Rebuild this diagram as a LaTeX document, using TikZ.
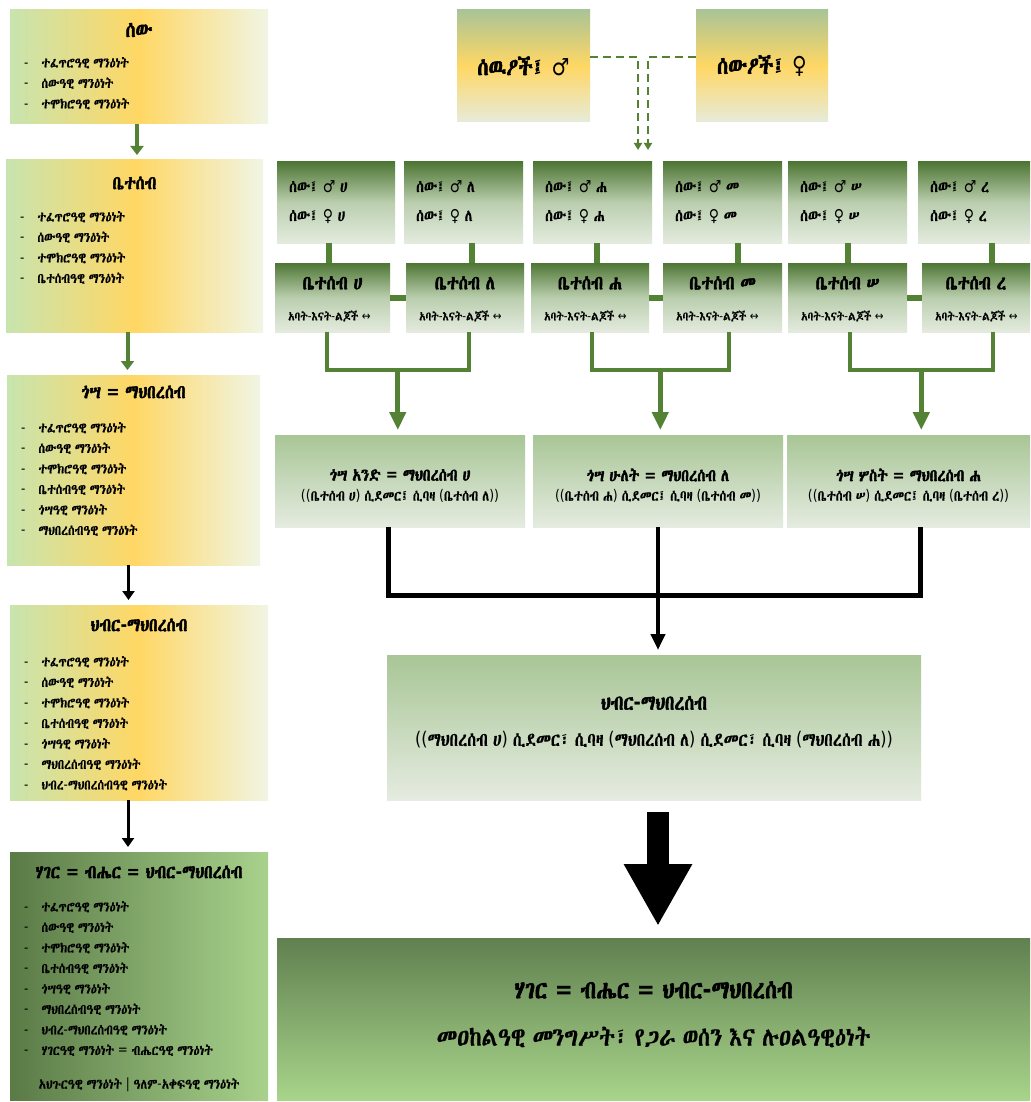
\documentclass[tikz,border=0pt]{standalone}
\usepackage{fontspec}
\setmainfont{DejaVu Sans}[FakeStretch=0.85]
\newfontfamily\latf{DejaVu Sans}[FakeStretch=0.85]
\IfFontExistsTF{Abyssinica SIL}{%
  \newfontfamily\geez{Abyssinica SIL}[FakeStretch=0.85,UprightFeatures={FakeBold=0.7},
    BoldFont={Abyssinica SIL},BoldFeatures={FakeBold=2.5}]}{%
  \IfFontExistsTF{FreeSerif}{\newfontfamily\geez{FreeSerif}[FakeStretch=0.85]}{\newfontfamily\geez{DejaVu Sans}}}
\usetikzlibrary{arrows.meta,calc}

% Ethiopic letters switch to the Ge'ez font, everything else stays in DejaVu
\XeTeXinterchartokenstate=1
\newXeTeXintercharclass\ethcls
\newcount\ethc
\ethc="1200
\loop
  \XeTeXcharclass\ethc=\ethcls
  \advance\ethc by 1
\ifnum\ethc<"13A0 \repeat
\XeTeXinterchartoks 0 \ethcls = {\geez}
\XeTeXinterchartoks 4095 \ethcls = {\geez}
\XeTeXinterchartoks \ethcls 0 = {\latf}
\XeTeXinterchartoks \ethcls 4095 = {\latf}

\definecolor{sideL}{RGB}{200,228,175}
\definecolor{sideM}{RGB}{255,215,100}
\definecolor{sideR}{RGB}{240,245,228}
\definecolor{natL}{RGB}{90,122,70}
\definecolor{natR}{RGB}{168,210,140}
\definecolor{pplT}{RGB}{169,196,150}
\definecolor{pplB}{RGB}{230,235,218}
\definecolor{famT}{RGB}{78,118,52}
\definecolor{famM}{RGB}{186,206,174}
\definecolor{famB}{RGB}{228,235,222}
\definecolor{clanT}{RGB}{168,198,150}
\definecolor{clanB}{RGB}{229,235,224}
\definecolor{natT}{RGB}{96,128,80}
\definecolor{natB}{RGB}{168,212,138}
\definecolor{connG}{RGB}{84,130,53}

\newcommand{\itm}[1]{-\hspace{13pt}#1}

\begin{document}
\begin{tikzpicture}[x=1pt,y=-1pt,
  box/.style={anchor=north west,inner sep=0pt,outer sep=0pt},
  sidebox/.style={box,left color=sideL,right color=sideR,middle color=sideM},
  nationside/.style={box,left color=natL,right color=natR},
  peoplebox/.style={box,top color=pplT,bottom color=pplB,middle color=sideM,
    font=\bfseries\fontsize{23.5}{26}\selectfont},
  pairbox/.style={box,top color=famT,bottom color=famB,middle color=famM},
  clanbox/.style={box,top color=clanT,bottom color=clanB},
  nationbox/.style={box,top color=natT,bottom color=natB},
  sidehead/.style={font=\bfseries\fontsize{18.8}{20}\selectfont},
  sidelist/.style={anchor=north west,align=left,inner sep=0pt,font=\fontsize{14}{20.5}\selectfont},
  pairtext/.style={anchor=north west,align=left,inner sep=0pt,font=\fontsize{16.5}{29}\selectfont},
  famhead/.style={font=\bfseries\fontsize{19.4}{21}\selectfont},
  famsub/.style={anchor=west,inner sep=0pt,font=\fontsize{12.3}{14}\selectfont},
  clanhead/.style={font=\bfseries\fontsize{17}{19}\selectfont},
  clansub/.style={font=\fontsize{14.7}{16}\selectfont},
  hybhead/.style={font=\bfseries\fontsize{20.6}{23}\selectfont},
  hybsub/.style={font=\fontsize{18.8}{21}\selectfont},
  nathead/.style={font=\bfseries\fontsize{25.3}{28}\selectfont},
  natsub/.style={font=\fontsize{25.9}{28}\selectfont},
  garrow/.style={color=connG,line width=4pt,-{Triangle[length=9pt,width=13pt]},shorten >=5pt},
  karrow/.style={black,line width=3pt,-{Triangle[length=9pt,width=12pt]},shorten >=5pt},
  dconn/.style={color=connG,line width=2.5pt,dash pattern=on 8pt off 5pt,-{Triangle[length=7pt,width=8pt]}},
  gbar/.style={color=connG,line width=6pt},
  gline/.style={color=connG,line width=4pt},
  garrowbig/.style={color=connG,line width=5pt,-{Triangle[length=18pt,width=16pt]},shorten >=5pt},
  kline/.style={black,line width=5pt},
  karrowbig/.style={black,line width=4pt,-{Triangle[length=16pt,width=14pt]},shorten >=5pt},
  bigarrow/.style={black,line width=22pt,-{Triangle[length=62pt,width=64pt]}}]
  \fill[white] (0,0) rectangle (1030,1102);
  \useasboundingbox (0,0) rectangle (1030,1102);

  % left column
  \node[sidebox,minimum width=258,minimum height=114] (sew) at (10,10) {};
  \node[sidehead,font=\bfseries\fontsize{21}{23}\selectfont] (sewH) at ([yshift=-20]sew.north) {ሰው};
  \node[sidelist] (sewL) at ([xshift=14,yshift=-47]sew.north west)
    {\itm{ተፈጥሮዓዊ ማንዕነት}\\ \itm{ሰውዓዊ ማንዕነት}\\ \itm{ተሞክሮዓዊ ማንዕነት}};

  \node[sidebox,minimum width=257,minimum height=172] (bet) at (6,160) {};
  \node[sidehead] (betH) at ([yshift=-23]bet.north) {ቤተሰብ};
  \node[sidelist] (betL) at ([xshift=14,yshift=-51]bet.north west)
    {\itm{ተፈጥሮዓዊ ማንዕነት}\\ \itm{ሰውዓዊ ማንዕነት}\\ \itm{ተሞክሮዓዊ ማንዕነት}\\
     \itm{ቤተሰብዓዊ ማንዕነት}};

  \node[sidebox,minimum width=253,minimum height=190] (gos) at (7,375) {};
  \node[sidehead] (gosH) at ([yshift=-17]gos.north) {ጎሣ = ማህበረሰብ};
  \node[sidelist] (gosL) at ([xshift=14,yshift=-47]gos.north west)
    {\itm{ተፈጥሮዓዊ ማንዕነት}\\ \itm{ሰውዓዊ ማንዕነት}\\ \itm{ተሞክሮዓዊ ማንዕነት}\\
     \itm{ቤተሰብዓዊ ማንዕነት}\\ \itm{ጎሣዓዊ ማንዕነት}\\ \itm{ማህበረሰብዓዊ ማንዕነት}};

  \node[sidebox,minimum width=258,minimum height=195] (hib) at (10,605) {};
  \node[sidehead] (hibH) at ([yshift=-20]hib.north) {ህብር-ማህበረሰብ};
  \node[sidelist] (hibL) at ([xshift=14,yshift=-51]hib.north west)
    {\itm{ተፈጥሮዓዊ ማንዕነት}\\ \itm{ሰውዓዊ ማንዕነት}\\ \itm{ተሞክሮዓዊ ማንዕነት}\\
     \itm{ቤተሰብዓዊ ማንዕነት}\\ \itm{ጎሣዓዊ ማንዕነት}\\ \itm{ማህበረሰብዓዊ ማንዕነት}\\
     \itm{ህብረ-ማህበረሰብዓዊ ማንዕነት}};

  \node[nationside,minimum width=258,minimum height=248] (hag) at (10,852) {};
  \node[sidehead] (hagH) at ([yshift=-20]hag.north) {ሃገር = ብሔር = ህብር-ማህበረሰብ};
  \node[sidelist] (hagL) at ([xshift=14,yshift=-49]hag.north west)
    {\itm{ተፈጥሮዓዊ ማንዕነት}\\ \itm{ሰውዓዊ ማንዕነት}\\ \itm{ተሞክሮዓዊ ማንዕነት}\\
     \itm{ቤተሰብዓዊ ማንዕነት}\\ \itm{ጎሣዓዊ ማንዕነት}\\ \itm{ማህበረሰብዓዊ ማንዕነት}\\
     \itm{ህብረ-ማህበረሰብዓዊ ማንዕነት}\\ \itm{ሃገርዓዊ ማንዕነት = ብሔርዓዊ ማንዕነት}};
  \node[font=\fontsize{14}{16}\selectfont] (hagF) at ([yshift=15]hag.south)
    {አህጉርዓዊ ማንዕነት | ዓለም-አቀፍዓዊ ማንዕነት};

  \draw[garrow] ($(sew.south)+(-2,0)$) -- ($(sew.south |- bet.north)+(-2,0)$);
  \draw[garrow] ($(bet.south)+(-7,0)$) -- ($(bet.south |- gos.north)+(-7,0)$);
  \draw[karrow] ($(gos.south)+(-5,0)$) -- ($(gos.south |- hib.north)+(-5,0)$);
  \draw[karrow] ($(hib.south)+(-11,0)$) -- ($(hib.south |- hag.north)+(-11,0)$);

  % people
  \node[peoplebox,minimum width=133,minimum height=112] (wnd) at (457,10) {ሰዉዖች፤ ♂};
  \node[peoplebox,minimum width=132,minimum height=112] (set) at (696,10) {ሰውዖች፤ ♀};

  % couples and families
  \foreach \n/\x/\w/\l in {A/277/118/ሀ,B/404/119/ለ,C/533/119/ሐ,D/663/119/መ,E/788/119/ሠ,F/918/112/ረ}{
    \node[pairbox,minimum width=\w,minimum height=81] (p\n) at (\x,162) {};
    \node[pairtext] (t\n) at ([xshift=12,yshift=-18]p\n.north west) {ሰው፤ ♂ \l\\ሰው፤ ♀ \l};
  }
  \foreach \n/\x/\w/\l in {A/275/115/ሀ,B/406/118/ለ,C/531/118/ሐ,D/663/119/መ,E/788/119/ሠ,F/922/108/ረ}{
    \node[pairbox,minimum width=\w,minimum height=69] (f\n) at (\x,263) {};
    \node[famhead] (h\n) at ([yshift=-20]f\n.north) {ቤተሰብ \l};
    \node[famsub] (s\n) at ([xshift=13,yshift=-53]f\n.north west) {አባት-እናት-ልጆች ↔};
  }

  \coordinate (dmid) at ($(wnd.east)!0.5!(set.west)$);
  \coordinate (dL) at ($(dmid |- pC.north)+(-5,-12)$);
  \coordinate (dR) at ($(dmid |- pC.north)+(5,-12)$);
  \draw[dconn] ([yshift=9]wnd.east) -| (dL);
  \draw[dconn] ([yshift=9]set.west) -| (dR);

  \foreach \n/\d in {A/-7,B/8,C/4,D/15,E/0,F/18}
    \draw[gbar] ($(p\n.south)+(\d,0)$) -- ($(p\n.south |- f\n.north)+(\d,0)$);
  \foreach \a/\b in {A/B,C/D,E/F}
    \draw[gbar] (f\a.east) -- (f\b.west);

  % clans
  \node[clanbox,minimum width=250,minimum height=92] (g1) at (275,435) {};
  \node[clanbox,minimum width=250,minimum height=92] (g2) at (533,435) {};
  \node[clanbox,minimum width=243,minimum height=92] (g3) at (787,435) {};
  \node[clanhead] (g1h) at ([yshift=-40]g1.north) {ጎሣ አንድ = ማህበረሰብ ሀ};
  \node[clansub] (g1s) at ([yshift=-61]g1.north) {((ቤተሰብ ሀ) ሲደመር፤ ሲባዛ (ቤተሰብ ለ))};
  \node[clanhead] (g2h) at ([yshift=-40]g2.north) {ጎሣ ሁለት = ማህበረሰብ ለ};
  \node[clansub] (g2s) at ([yshift=-61]g2.north) {((ቤተሰብ ሐ) ሲደመር፤ ሲባዛ (ቤተሰብ መ))};
  \node[clanhead] (g3h) at ([yshift=-40]g3.north) {ጎሣ ሦስት = ማህበረሰብ ሐ};
  \node[clansub] (g3s) at ([yshift=-61]g3.north) {((ቤተሰብ ሠ) ሲደመር፤ ሲባዛ (ቤተሰብ ረ))};

  \foreach \a/\da/\b/\db/\g in {A/-6/B/4/g1,C/2/D/6/g2,E/2/F/17/g3}{
    \draw[gline] ($(f\a.south)+(\da,0)$) -- ++(0,38) -| ($(f\b.south)+(\db,0)$);
    \coordinate (j\a) at ($(f\a.south)!0.5!(f\b.south)+({(\da+\db)/2},38)$);
    \draw[garrowbig] (j\a) -- (j\a |- \g.north);
  }

  % hybrid society
  \node[clanbox,minimum width=534,minimum height=145] (hyb) at (387,655) {};
  \node[hybhead] (hybh) at ([yshift=-48]hyb.north) {ህብር-ማህበረሰብ};
  \node[hybsub] (hybs) at ([yshift=-85]hyb.north)
    {((ማህበረሰብ ሀ) ሲደመር፣ ሲባዛ (ማህበረሰብ ለ) ሲደመር፣ ሲባዛ (ማህበረሰብ ሐ))};

  \draw[kline] ($(g1.south)+(-12,0)$) -- ++(0,68) -| ($(g3.south)+(12,0)$);
  \draw[karrowbig] (g2.south) -- (g2.south |- hyb.north);

  % nation
  \node[nationbox,minimum width=753,minimum height=162] (bot) at (277,938) {};
  \node[nathead] (both) at ([yshift=-52]bot.north) {ሃገር = ብሔር = ህብር-ማህበረሰብ};
  \node[natsub] (bots) at ([yshift=-99]bot.north) {መዐከልዓዊ መንግሥት፣ የጋራ ወሰን እና ሉዐልዓዊዕነት};

  \draw[bigarrow] ($(g2.south |- hyb.south)+(0,12)$) -- ($(g2.south |- bot.north)+(0,-12)$);
\end{tikzpicture}
\end{document}
